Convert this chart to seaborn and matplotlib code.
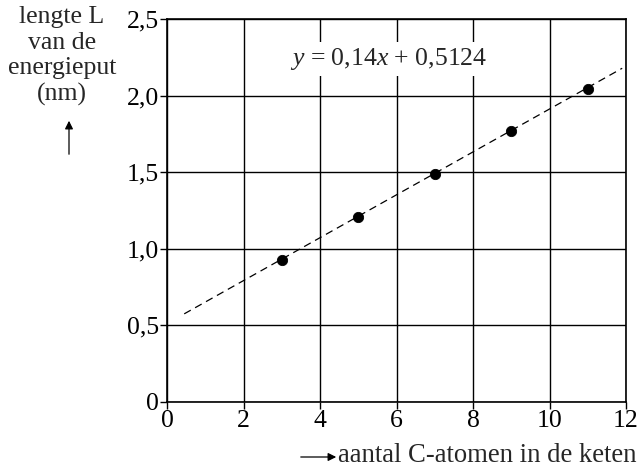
import matplotlib
matplotlib.use("Agg")
import matplotlib.pyplot as plt
import seaborn as sns
import numpy as np
import pandas as pd

x_vals = [3, 5, 7, 9, 11]
y_vals = [0.93, 1.21, 1.49, 1.77, 2.04]
slope = 0.14
intercept = 0.5124
fit_x = [0.45, 11.9]
x_ticks = [0, 2, 4, 6, 8, 10, 12]
x_ticklabels = ["0", "2", "4", "6", "8", "10", "12"]
y_ticks = [0, 0.5, 1.0, 1.5, 2.0, 2.5]
y_ticklabels = ["0", "0,5", "1,0", "1,5", "2,0", "2,5"]

sns.set_style("white")
plt.rcParams['font.family'] = ['Liberation Serif', 'DejaVu Serif']
plt.rcParams['mathtext.fontset'] = 'custom'
plt.rcParams['mathtext.it'] = 'Liberation Serif:italic'
plt.rcParams['mathtext.rm'] = 'Liberation Serif'

FS = 18.5

fig = plt.figure(figsize=(6.44, 4.68), dpi=100)
ax = fig.add_axes([167/644, 1-402/468, (626-167)/644, (402-19)/468])

df = pd.DataFrame({"x": x_vals, "y": y_vals})
fx = np.array(fit_x)
fit_df = pd.DataFrame({"x": fx, "y": slope*fx + intercept})
sns.lineplot(data=fit_df, x="x", y="y", ax=ax, color="black", lw=0.9,
             linestyle=(0, (6, 4)), zorder=3)
sns.scatterplot(data=df, x="x", y="y", ax=ax, color="black", s=55,
                edgecolor="black", zorder=4)

ax.set_xlim(0, 12)
ax.set_ylim(0, 2.5)
ax.set_xticks(x_ticks)
ax.set_xticklabels(x_ticklabels)
ax.set_yticks(y_ticks)
ax.set_yticklabels(y_ticklabels)
ax.grid(True, color="black", lw=1.0)
ax.set_axisbelow(True)
for s in ax.spines.values():
    s.set_color("black")
    s.set_linewidth(1.2)
ax.tick_params(axis="both", direction="out", length=5, width=1.0, color="black",
               labelsize=FS, labelcolor="black", pad=1, left=True, bottom=True)
ax.set_xlabel("")
ax.set_ylabel("")

ax.text(5.8, 2.24, r"$y$ = 0,14$x$ + 0,5124", fontsize=FS, ha="center", va="center",
        bbox=dict(facecolor="white", edgecolor="none", pad=3), zorder=5)

fig.text(62/644, 1-6/468, "lengte L\nvan de\nenergieput\n(nm)", ha="center", va="top",
         fontsize=FS, linespacing=1.22)
fig.add_artist(matplotlib.patches.FancyArrowPatch((69/644, 1-157/468), (69/644, 1-118/468),
               transform=fig.transFigure, arrowstyle="-|>", mutation_scale=12,
               color="black", lw=0.9))

fig.text(338/644, 1-455/468, "aantal C-atomen in de keten", ha="left", va="center",
         fontsize=19.2)
fig.add_artist(matplotlib.patches.FancyArrowPatch((298/644, 1-457/468), (339/644, 1-457/468),
               transform=fig.transFigure, arrowstyle="-|>", mutation_scale=12,
               color="black", lw=0.9))

fig.savefig("out.png", dpi=100, facecolor="white")
